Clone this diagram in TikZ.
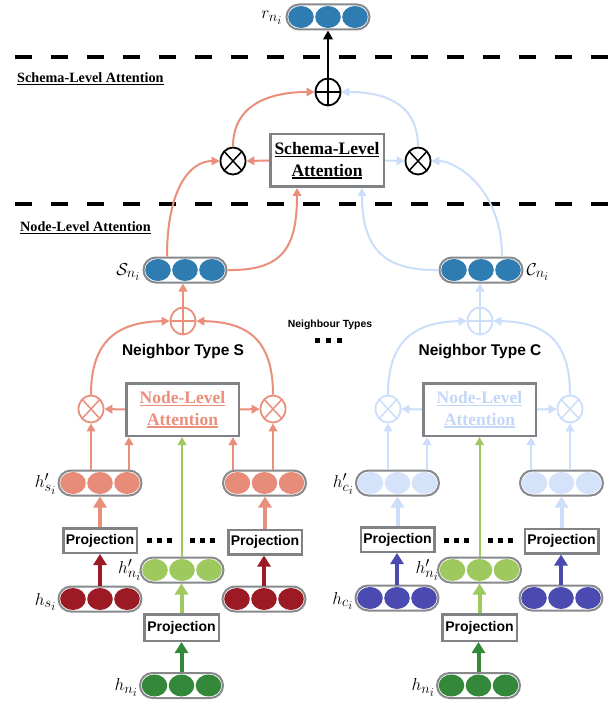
\documentclass[tikz,border=0pt]{standalone}
\usepackage{fontspec}
\newfontfamily\tnr{Liberation Serif}
\newfontfamily\hv{Liberation Sans}
\usetikzlibrary{arrows.meta,shapes.geometric,calc}
\DeclareMathSizes{17.28}{17.28}{14.4}{12}
\definecolor{dblue}{RGB}{46,124,177}
\definecolor{salm}{RGB}{234,143,124}
\definecolor{salmfill}{RGB}{232,140,122}
\definecolor{lbl}{RGB}{204,222,250}
\definecolor{lbfill}{RGB}{212,226,250}
\definecolor{lbtext}{RGB}{195,215,248}
\definecolor{lgreen}{RGB}{157,201,94}
\definecolor{dgreen}{RGB}{52,136,58}
\definecolor{dred}{RGB}{155,26,36}
\definecolor{indig}{RGB}{74,74,176}
\definecolor{boxgray}{RGB}{128,130,133}
\definecolor{pillgray}{RGB}{135,137,140}
\newcommand\ulx[2][1.3pt]{\setbox0=\hbox{#2}\leavevmode\rlap{\rule[-2.6pt]{\wd0}{#1}}\box0}
\newcommand\mkpill[3]{%
  \node[pill] (#1) at (#2) {};
  \foreach \dd in {-27,0,27}
    \fill[#3] ($(#1.center)+(\dd,0)$) ellipse [x radius=12.8pt, y radius=11pt];
}
\tikzset{
  pill/.style={draw=pillgray, line width=2pt, fill=white, rounded corners=12.5pt,
    minimum width=83pt, minimum height=25pt, inner sep=0pt},
  gbox/.style={draw=boxgray, line width=2.5pt, fill=white, inner sep=0pt, align=center},
  pbox/.style={minimum width=73.5pt, minimum height=24.5pt, font=\hv\bfseries\fontsize{14}{16}\selectfont},
  nlfont/.style={font=\tnr\bfseries\fontsize{17.5}{21.5}\selectfont},
  opcirc/.style={ellipse, draw=#1, line width=1.8pt, minimum width=25pt, minimum height=27pt, inner sep=0pt},
  oplus/.style={opcirc=#1, path picture={\draw[#1, line width=1.5pt]
     (path picture bounding box.north) -- (path picture bounding box.south)
     (path picture bounding box.west) -- (path picture bounding box.east);}},
  otimes/.style={opcirc=#1, path picture={\draw[#1, line width=1.5pt]
     (path picture bounding box.north west) -- (path picture bounding box.south east)
     (path picture bounding box.north east) -- (path picture bounding box.south west);}},
  conn/.style={draw=#1, line width=2pt, -{Triangle[length=8pt,width=8.5pt]}},
  fat/.style={draw=#1, line width=4pt, -{Triangle[length=11pt,width=13pt]}},
  dline/.style={line width=4pt, dash pattern=on 17pt off 19pt},
  mlabel/.style={inner sep=0pt, font=\fontsize{17.28}{20}\selectfont},
  typelab/.style={font=\hv\bfseries\fontsize{15.5}{18}\selectfont},
  sidelab/.style={inner sep=0pt, anchor=west, font=\tnr\bfseries\fontsize{14.2}{16}\selectfont},
}
\begin{document}
\begin{tikzpicture}[x=1pt,y=-1pt]
\useasboundingbox (0,0) rectangle (613,703);
\fill[white] (0,0) rectangle (613,703);

% dashed separators and side labels
\draw[dline] (15,57) -- (613,57);
\draw[dline] (15,204) -- (613,204);
\node[sidelab] (lab1) at (17,79) {\ulx[1pt]{Schema-Level Attention}};
\node[sidelab] (lab2) at (20,228) {\ulx[1pt]{Node-Level Attention}};

% ---------- schema level ----------
\mkpill{rp}{328,17}{dblue}
\node[mlabel, anchor=east] (lrp) at ($(rp.west)+(-3,1)$) {$r_{n_i}$};
\node[oplus=black] (top) at (328,92) {};
\node[gbox, minimum width=113.5pt, minimum height=52.5pt, nlfont] (sbox) at (327,160.5)
  {\ulx{Schema-Level}\\\ulx{Attention}};
\node[otimes=black] (oxL) at (233,161) {};
\node[otimes=black] (oxR) at (418,161) {};

% ---------- left column (type S) ----------
\mkpill{Sp}{185,270}{dblue}
\node[mlabel, anchor=east] (lSp) at ($(Sp.west)+(-2,2)$) {$\mathcal{S}_{n_i}$};
\node[oplus=salm] (Splus) at (183,321) {};
\node[typelab] (Slab) at (183,352) {Neighbor Type S};
\node[gbox, minimum width=112.5pt, minimum height=52.5pt, nlfont, text=salm] (Snl) at (182.5,409.5)
  {\ulx{Node-Level}\\\ulx{Attention}};
\node[otimes=salm] (Sox1) at (91,409) {};
\node[otimes=salm] (Sox2) at (273,409) {};
\mkpill{Shp1}{100,483}{salmfill}
\mkpill{Shp2}{264.5,483}{salmfill}
\node[gbox, pbox] (Spr1) at (100,540.5) {Projection};
\node[gbox, pbox] (Spr2) at (265,542) {Projection};
\mkpill{Sh1}{100,599}{dred}
\mkpill{Sh2}{264,599}{dred}
\mkpill{Shpn}{182,570}{lgreen}
\node[gbox, pbox, minimum width=74.5pt, minimum height=26.5pt] (Spr3) at (181.5,627.5) {Projection};
\mkpill{Shn}{181.5,685.5}{dgreen}
\node[mlabel, anchor=east] (lShp) at ($(Shp1.west)+(-1,1)$) {$h'_{s_i}$};
\node[mlabel, anchor=east] (lShpn) at ($(Shpn.west)+(2,0)$) {$h'_{n_i}$};
\node[mlabel, anchor=east] (lSh) at ($(Sh1.west)+(-1,3)$) {$h_{s_i}$};
\node[mlabel, anchor=east] (lShn) at ($(Shn.west)+(-1,2)$) {$h_{n_i}$};

% ---------- right column (type C) ----------
\mkpill{Cp}{481,270}{dblue}
\node[mlabel, anchor=west] (lCp) at ($(Cp.east)+(3,2)$) {$\mathcal{C}_{n_i}$};
\node[oplus=lbl] (Cplus) at (480,321) {};
\node[typelab] (Clab) at (480,352) {Neighbor Type C};
\node[gbox, minimum width=112.5pt, minimum height=52.5pt, nlfont, text=lbtext] (Cnl) at (479.5,409.5)
  {\ulx{Node-Level}\\\ulx{Attention}};
\node[otimes=lbl] (Cox1) at (388,409) {};
\node[otimes=lbl] (Cox2) at (570,409) {};
\mkpill{Chp1}{397.5,483}{lbfill}
\mkpill{Chp2}{561.5,483}{lbfill}
\node[gbox, pbox] (Cpr1) at (397.5,539.5) {Projection};
\node[gbox, pbox] (Cpr2) at (561.5,541) {Projection};
\mkpill{Ch1}{397,598}{indig}
\mkpill{Ch2}{561,598}{indig}
\mkpill{Chpn}{479.5,570}{lgreen}
\node[gbox, pbox, minimum width=74.5pt, minimum height=26.5pt] (Cpr3) at (479.5,627.5) {Projection};
\mkpill{Chn}{478.5,685.5}{dgreen}
\node[mlabel, anchor=east] (lChp) at ($(Chp1.west)+(-1,1)$) {$h'_{c_i}$};
\node[mlabel, anchor=east] (lChpn) at ($(Chpn.west)+(2,0)$) {$h'_{n_i}$};
\node[mlabel, anchor=east] (lCh) at ($(Ch1.west)+(-1,3)$) {$h_{c_i}$};
\node[mlabel, anchor=east] (lChn) at ($(Chn.west)+(-1,2)$) {$h_{n_i}$};

% neighbour types
\node[font=\hv\bfseries\fontsize{10.4}{12}\selectfont] (ntypes) at (330,325) {Neighbour Types};
\foreach \xx in {317.5,328.5,339.5} \fill (\xx-2.5,337.5) rectangle +(5,5);
\foreach \xx in {149.5,159.5,169.5,192.5,202.5,212.5,446,456,466,490,500,510}
  \fill (\xx-2.5,537.5) rectangle +(5,5);

% ---------- connectors: schema level ----------
\draw[conn=black, line width=2.5pt, -{Triangle[length=9pt,width=9.5pt]}] (top.north) -- (top.north |- rp.south);
\draw[conn=salm] (sbox.west) -- (oxL.east);
\draw[conn=lbl] (sbox.east) -- (oxR.west);
\draw[conn=salm] (oxL.north) .. controls ($(oxL.north)+(0,-45)$) and ($(top.west)+(-40,0)$) .. (top.west);
\draw[conn=lbl] (oxR.north) .. controls ($(oxR.north)+(0,-45)$) and ($(top.east)+(40,0)$) .. (top.east);
\coordinate (Sout) at ($(Sp.north)+(-18,0)$);
\coordinate (Cout) at ($(Cp.north)+(21,0)$);
\coordinate (Sin) at ($(sbox.south)+(-30,0)$);
\coordinate (Cin) at ($(sbox.south)+(35,0)$);
\draw[conn=salm] (Sout) .. controls ($(Sout)+(0,-67)$) and ($(oxL.west)+(-30,0)$) .. (oxL.west);
\draw[conn=lbl] (Cout) .. controls ($(Cout)+(0,-67)$) and ($(oxR.east)+(25,0)$) .. (oxR.east);
\draw[conn=salm] (Sp.east) .. controls ($(Sp.east)+(55,1)$) and ($(Sin)+(0,60)$) .. (Sin);
\draw[conn=lbl] (Cp.west) .. controls ($(Cp.west)+(-55,1)$) and ($(Cin)+(0,60)$) .. (Cin);

% ---------- connectors: left column ----------
\coordinate (Sa1) at ($(Shp1.north)+(29,0)$);
\coordinate (Sa2) at ($(Shp2.north)+(-31.5,0)$);
\draw[conn=salm] (Sox1 |- Shp1.north) -- (Sox1.south);
\draw[conn=salm] (Sox2 |- Shp2.north) -- (Sox2.south);
\draw[conn=salm] (Sa1) -- (Sa1 |- Snl.south);
\draw[conn=salm] (Sa2) -- (Sa2 |- Snl.south);
\draw[conn=salm] (Snl.west) -- (Sox1.east);
\draw[conn=salm] (Snl.east) -- (Sox2.west);
\draw[conn=salm] (Sox1.north) .. controls ($(Sox1.north)+(0,-56)$) and ($(Splus.west)+(-50,1)$) .. (Splus.west);
\draw[conn=salm] (Sox2.north) .. controls ($(Sox2.north)+(0,-56)$) and ($(Splus.east)+(50,1)$) .. (Splus.east);
\draw[conn=salm] (Splus.north) -- (Splus.north |- Sp.south);
\draw[conn=lgreen] (Shpn.north) -- (Shpn.north |- Snl.south);
\draw[fat=salm] (Spr1.north) -- (Spr1.north |- Shp1.south);
\draw[fat=salm] (Spr2.north) -- (Spr2.north |- Shp2.south);
\draw[fat=dred] (Sh1.north) -- (Sh1.north |- Spr1.south);
\draw[fat=dred] (Sh2.north) -- (Sh2.north |- Spr2.south);
\draw[fat=lgreen] (Spr3.north) -- (Spr3.north |- Shpn.south);
\draw[fat=dgreen] (Shn.north) -- (Shn.north |- Spr3.south);

% ---------- connectors: right column ----------
\coordinate (Ca1) at ($(Chp1.north)+(29.5,0)$);
\coordinate (Ca2) at ($(Chp2.north)+(-30.5,0)$);
\draw[conn=lbl] (Cox1 |- Chp1.north) -- (Cox1.south);
\draw[conn=lbl] (Cox2 |- Chp2.north) -- (Cox2.south);
\draw[conn=lbl] (Ca1) -- (Ca1 |- Cnl.south);
\draw[conn=lbl] (Ca2) -- (Ca2 |- Cnl.south);
\draw[conn=lbl] (Cnl.west) -- (Cox1.east);
\draw[conn=lbl] (Cnl.east) -- (Cox2.west);
\draw[conn=lbl] (Cox1.north) .. controls ($(Cox1.north)+(0,-56)$) and ($(Cplus.west)+(-50,1)$) .. (Cplus.west);
\draw[conn=lbl] (Cox2.north) .. controls ($(Cox2.north)+(0,-56)$) and ($(Cplus.east)+(50,1)$) .. (Cplus.east);
\draw[conn=lbl] (Cplus.north) -- (Cplus.north |- Cp.south);
\draw[conn=lgreen] (Chpn.north) -- (Chpn.north |- Cnl.south);
\draw[fat=lbl] (Cpr1.north) -- (Cpr1.north |- Chp1.south);
\draw[fat=lbl] (Cpr2.north) -- (Cpr2.north |- Chp2.south);
\draw[fat=indig] (Ch1.north) -- (Ch1.north |- Cpr1.south);
\draw[fat=indig] (Ch2.north) -- (Ch2.north |- Cpr2.south);
\draw[fat=lgreen] (Cpr3.north) -- (Cpr3.north |- Chpn.south);
\draw[fat=dgreen] (Chn.north) -- (Chn.north |- Cpr3.south);
\end{tikzpicture}
\end{document}
